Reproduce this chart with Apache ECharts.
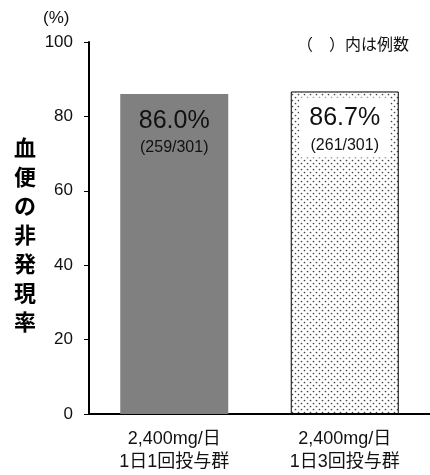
<!DOCTYPE html>
<html><head><meta charset="utf-8">
<script src="https://cdn.jsdelivr.net/npm/echarts@6/dist/echarts.min.js"></script>
<style>html,body{margin:0;padding:0;background:#fff}#c{width:430px;height:475px}</style>
</head><body><div id="c"></div>
<script>
const categories = ['2,400mg/日\n1日1回投与群', '2,400mg/日\n1日3回投与群'];
const rates = [86.0, 86.7];
const counts = ['259/301', '261/301'];
const yTicks = [0, 20, 40, 60, 80, 100];

const FONT = '"Liberation Sans", Arial, "Noto Sans CJK JP", sans-serif';
const JFONT = '"Noto Sans CJK JP", sans-serif';

// dot pattern
const pc = document.createElement('canvas');
pc.width = 6; pc.height = 6;
const pctx = pc.getContext('2d');
pctx.fillStyle = '#fff'; pctx.fillRect(0, 0, 6, 6);
pctx.fillStyle = '#444';
pctx.beginPath(); pctx.arc(1.5, 1.5, 0.85, 0, Math.PI * 2); pctx.fill();
pctx.beginPath(); pctx.arc(4.5, 4.5, 0.85, 0, Math.PI * 2); pctx.fill();

const chart = echarts.init(document.getElementById('c'), null, {renderer: 'canvas'});
const labelRich = {
  a: {fontSize: 25, lineHeight: 34, color: '#111', fontFamily: FONT, align: 'center'},
  b: {fontSize: 16, lineHeight: 20, color: '#111', fontFamily: FONT, align: 'center'}
};
const styles = [
  {color: '#808080'},
  {color: {image: pc, repeat: 'repeat'}, borderColor: '#000', borderWidth: 1}
];
chart.setOption({
  animation: false,
  grid: {left: 89, right: 0, top: 42, bottom: 61},
  xAxis: {
    type: 'category', data: categories,
    axisLine: {lineStyle: {color: '#000', width: 2}},
    axisTick: {length: 5, lineStyle: {color: '#000', width: 1}},
    axisLabel: {color: '#111', fontSize: 18, lineHeight: 23, fontFamily: FONT, margin: 14}
  },
  yAxis: {
    type: 'value', min: 0, max: 100, interval: 20,
    splitLine: {show: false},
    axisLine: {show: true, lineStyle: {color: '#000', width: 2}},
    axisTick: {show: true, length: 5, lineStyle: {color: '#000', width: 1}},
    axisLabel: {color: '#111', fontSize: 17, fontFamily: FONT, margin: 16,
      formatter: v => yTicks.includes(v) ? String(v) : ''}
  },
  series: [{
    type: 'bar', barWidth: 108,
    data: rates.map((v, i) => ({
      value: v,
      itemStyle: styles[i],
      label: {
        show: true, position: 'insideTop', distance: 6,
        backgroundColor: i === 1 ? '#fff' : 'transparent',
        padding: [4, 10, 2, 10],
        formatter: '{a|' + v.toFixed(1) + '%}\n{b|(' + counts[i] + ')}',
        rich: labelRich
      }
    }))
  }],
  graphic: [
    {type: 'text', left: 43, top: 10, style: {text: '(%)', font: '17px ' + FONT, fill: '#111'}},
    {type: 'text', left: 297, top: 36, style: {text: '（　）内は例数', font: '16px ' + JFONT, fill: '#111'}},
    {type: 'text', left: 14, top: 133, style: {text: '血\n便\nの\n非\n発\n現\n率', font: 'bold 22px ' + JFONT, fill: '#000', lineHeight: 29, align: 'center'}}
  ]
});
</script></body></html>
